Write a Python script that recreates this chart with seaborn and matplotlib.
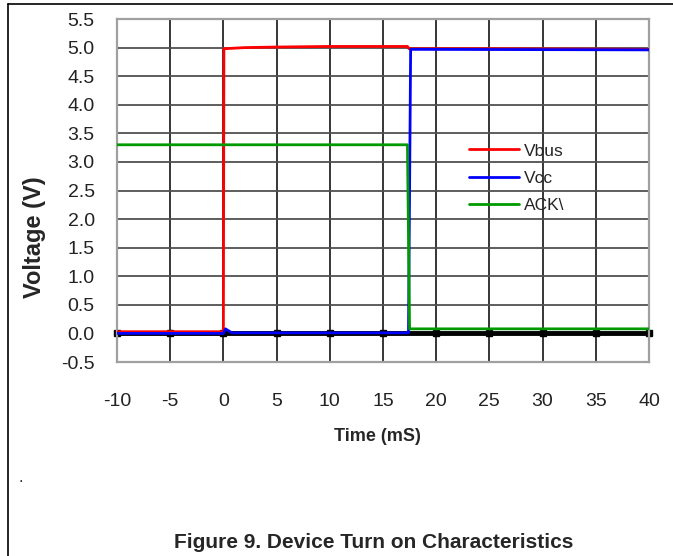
import numpy as np
import pandas as pd
import matplotlib
matplotlib.use("Agg")
import matplotlib.pyplot as plt
from matplotlib.lines import Line2D
import seaborn as sns

# step traces
t_vbus = [-10, 0, 0.05, 2, 5, 10, 17.3, 17.45, 25, 40]
v_vbus = [0.03, 0.03, 4.98, 5.0, 5.01, 5.02, 5.02, 4.98, 4.98, 4.97]
t_vcc = [-10, 0, 0.2, 0.8, 17.4, 17.6, 40]
v_vcc = [0.0, 0.0, 0.08, 0.01, 0.01, 4.97, 4.96]
t_ack = [-10, 17.3, 17.5, 40]
v_ack = [3.3, 3.3, 0.08, 0.08]

x_ticks = list(range(-10, 41, 5))
y_ticks = [-0.5, 0.0, 0.5, 1.0, 1.5, 2.0, 2.5, 3.0, 3.5, 4.0, 4.5, 5.0, 5.5]
signals = ["Vbus", "Vcc", "ACK\\"]
colors = ["#ff0000", "#0000ff", "#009a00"]

df = pd.concat([
    pd.DataFrame({"time": t_vbus, "voltage": v_vbus, "signal": signals[0]}),
    pd.DataFrame({"time": t_vcc, "voltage": v_vcc, "signal": signals[1]}),
    pd.DataFrame({"time": t_ack, "voltage": v_ack, "signal": signals[2]}),
])

sns.set_style("white")
plt.rcParams["font.family"] = ["Liberation Sans", "DejaVu Sans"]

fig = plt.figure(figsize=(6.73, 5.56), dpi=100)
ax = fig.add_axes([0.1738, 0.3489, 0.7905, 0.6169])

# grid
for x in x_ticks:
    ax.axvline(x, color="black", lw=1.1, zorder=1)
for y in y_ticks:
    ax.axhline(y, color="#505050", lw=1.3, zorder=1)

sns.lineplot(data=df, x="time", y="voltage", hue="signal", palette=colors,
             sort=False, estimator=None, lw=2, ax=ax, zorder=3, legend=False)

# heavy zero axis with square tick markers
ax.axhline(0, color="black", lw=3.5, zorder=2)
ax.plot(x_ticks, [0] * len(x_ticks), "s", color="black", ms=4.5, zorder=2,
        clip_on=False)

ax.set_xlim(-10, 40)
ax.set_ylim(-0.5, 5.5)
ax.set_xticks(x_ticks)
ax.set_yticks(y_ticks)
ax.set_xticklabels([str(v) for v in x_ticks])
ax.set_yticklabels([f"{v:.1f}" for v in y_ticks])
ax.tick_params(axis="both", length=0, labelsize=14, colors="#222222")
ax.tick_params(axis="x", pad=22)
ax.tick_params(axis="y", pad=16)
for s in ax.spines.values():
    s.set_color("#a0a0a0")
    s.set_linewidth(1.6)

ax.set_xlabel("Time (mS)", fontsize=13, fontweight="bold")
ax.xaxis.set_label_coords(0.489, -0.193)
ax.set_ylabel("Voltage (V)", fontsize=17, fontweight="bold")
ax.yaxis.set_label_coords(-0.134, 0.365)

handles = [Line2D([], [], color=c, lw=2) for c in colors]
leg = ax.legend(handles, signals, loc="upper left", bbox_to_anchor=(0.632, 0.683),
                frameon=False, fontsize=12.5, handlelength=2.9, handletextpad=0.3,
                labelspacing=0.7)

# figure border and annotations
fig.add_artist(Line2D([8 / 673, 1], [1 - 4 / 556, 1 - 4 / 556], color="black", lw=1.2))
fig.add_artist(Line2D([8 / 673, 8 / 673], [0, 1 - 4 / 556], color="black", lw=1.2))
fig.text(18 / 673, 1 - 477 / 556, ".", fontsize=12, ha="left", va="center")
fig.text(374 / 673, 1 - 543 / 556, "Figure 9. Device Turn on Characteristics",
         fontsize=15, fontweight="bold", ha="center", va="center")

fig.savefig("out.png", dpi=100, facecolor="white")
